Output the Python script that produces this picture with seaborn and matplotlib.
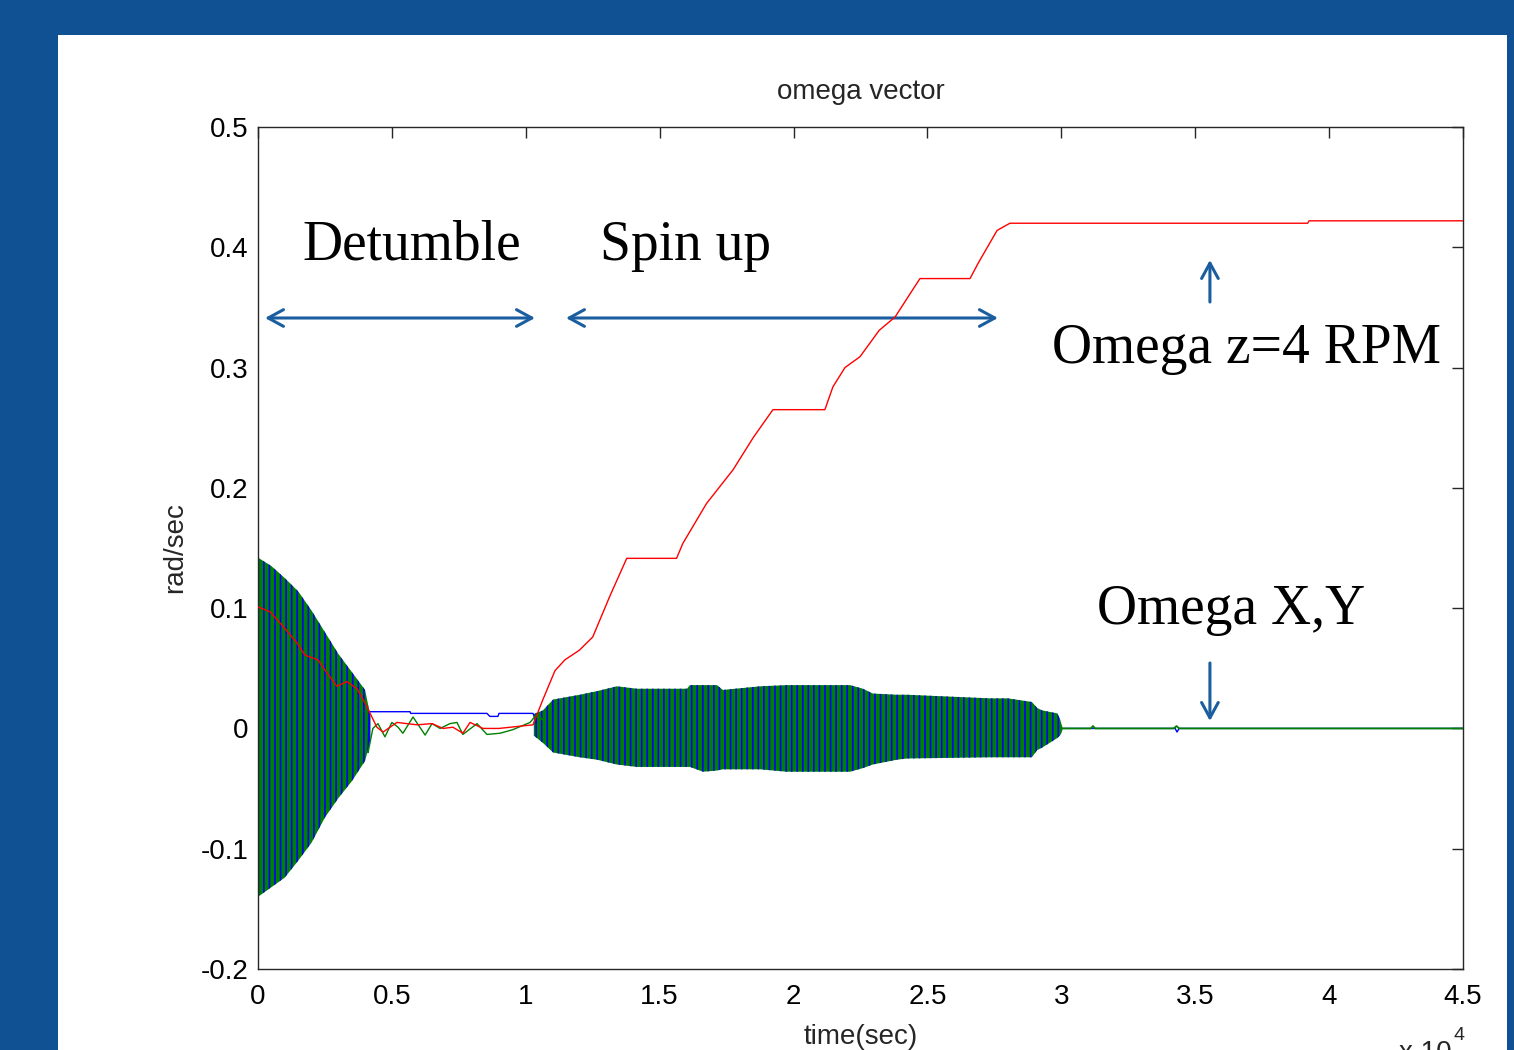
import numpy as np
import matplotlib
matplotlib.use("Agg")
import matplotlib.pyplot as plt
import seaborn as sns
from matplotlib.patches import Rectangle
from matplotlib.ticker import FixedLocator, FixedFormatter

# ---------------- data ----------------
# omega z (red)
t_z = [0, 450, 930, 1460, 1750, 2240, 2580, 2950, 3320, 3700, 4000, 4440, 4670,
       5190, 5940, 6500, 6910, 7280, 7650, 7920, 8400, 9000, 10270, 10640, 11090,
       11460, 12000, 12500, 13140, 13770, 15630, 15870, 16750, 17740, 18500, 19230,
       21170, 21470, 21920, 22480, 23200, 23790, 24720, 26590, 26900, 27600, 28080,
       39200, 39250, 45000]
w_z = [0.101, 0.097, 0.085, 0.071, 0.061, 0.057, 0.046, 0.035, 0.039, 0.033, 0.021,
       0.001, -0.003, 0.005, 0.003, 0.004, 0.000, 0.001, -0.004, 0.005, 0.000, 0.000,
       0.003, 0.024, 0.048, 0.057, 0.065, 0.076, 0.110, 0.1414, 0.1414, 0.154, 0.187,
       0.215, 0.242, 0.265, 0.265, 0.284, 0.300, 0.309, 0.331, 0.342, 0.374, 0.374,
       0.387, 0.414, 0.420, 0.420, 0.422, 0.422]

# omega x (blue), quiet parts
t_x = [4110, 4150, 4290, 5680, 5700, 8550, 8660, 8960, 9000, 10270, 10400]
w_x = [-0.020, 0.0139, 0.0139, 0.0139, 0.0125, 0.0125, 0.010, 0.010, 0.0125, 0.0125, 0.005]
t_x_end = [30060, 34250, 34320, 34400, 45000]
w_x_end = [0.0, 0.0, -0.003, 0.0, 0.0]

# omega y (green), quiet parts
t_y = [4110, 4290, 4480, 4740, 5000, 5230, 5410, 5790, 6240, 6500, 6800, 7170,
       7430, 7650, 8180, 8550, 9040, 9520, 10160, 10420, 10720]
w_y = [-0.020, 0.000, 0.004, -0.007, 0.005, 0.001, -0.004, 0.0095, -0.0055, 0.004,
       0.000, 0.004, 0.005, -0.005, 0.004, -0.005, -0.004, -0.001, 0.005, 0.012, 0.005]
t_y_end = [30060, 31100, 31180, 31260, 34200, 34300, 34400, 45000]
w_y_end = [0.0, 0.0, 0.002, 0.0, 0.0, 0.002, 0.0, 0.0]

# oscillation envelope of omega x / y during detumble
t_det = [0, 500, 1000, 1500, 2000, 2500, 3000, 3500, 4000, 4200]
det_hi = [0.142, 0.135, 0.125, 0.114, 0.098, 0.080, 0.062, 0.047, 0.032, 0.010]
det_lo = [-0.140, -0.132, -0.124, -0.110, -0.095, -0.074, -0.058, -0.044, -0.027, -0.010]

# oscillation envelope of omega x / y during spin up
t_spin = [10300, 10640, 11020, 12020, 12660, 13400, 14150, 16020, 16130, 16620, 17140,
          17360, 18750, 19750, 22110, 22590, 22960, 23860, 24230, 27330, 28000, 28900,
          29100, 29280, 29850, 29950, 30000, 30060]
spin_hi = [0.012, 0.015, 0.024, 0.028, 0.031, 0.035, 0.033, 0.033, 0.036, 0.036, 0.036,
           0.032, 0.035, 0.036, 0.036, 0.033, 0.029, 0.028, 0.028, 0.025, 0.025, 0.022,
           0.017, 0.015, 0.0125, 0.008, 0.004, 0.000]
spin_lo = [-0.006, -0.012, -0.020, -0.024, -0.026, -0.030, -0.032, -0.032, -0.032, -0.036,
           -0.035, -0.034, -0.034, -0.036, -0.036, -0.033, -0.030, -0.026, -0.025, -0.024,
           -0.024, -0.024, -0.018, -0.016, -0.008, -0.006, -0.004, 0.000]

x_ticks = [0, 5000, 10000, 15000, 20000, 25000, 30000, 35000, 40000, 45000]
x_tick_labels = ["0", "0.5", "1", "1.5", "2", "2.5", "3", "3.5", "4", "4.5"]
y_ticks = [-0.2, -0.1, 0.0, 0.1, 0.2, 0.3, 0.4, 0.5]
y_tick_labels = ["-0.2", "-0.1", "0", "0.1", "0.2", "0.3", "0.4", "0.5"]

# ---------------- style ----------------
sns.set_style("white")
SANS = ["Liberation Sans Narrow", "Liberation Sans", "DejaVu Sans"]
SERIF = ["Liberation Serif", "DejaVu Serif"]
plt.rcParams["font.family"] = SANS
plt.rcParams["hatch.linewidth"] = 1.2

BG_BLUE = "#0F5193"
ARROW = "#1B5E9F"
GREEN = "#008000"
BLUE = "#0000FF"
RED = "#FF0000"
FS = 20

W, H = 1514, 1050
fig = plt.figure(figsize=(W / 100, H / 100), dpi=100)
fig.patch.set_facecolor(BG_BLUE)
fig.patches.append(Rectangle((58 / W, 0), (1507 - 58) / W, (H - 35) / H,
                             transform=fig.transFigure, facecolor="white",
                             edgecolor="none", zorder=-10))

ax = fig.add_axes([258 / W, (H - 969) / H, (1463 - 258) / W, (969 - 127) / H])
ax.set_zorder(5)
ax.set_facecolor("white")

# envelopes (dense oscillations)
for tt, hi, lo in [(t_det, det_hi, det_lo), (t_spin, spin_hi, spin_lo)]:
    ax.fill_between(tt, lo, hi, facecolor=GREEN, edgecolor=BLUE, hatch="|||",
                    linewidth=0, zorder=2)

sns.lineplot(x=t_x, y=w_x, color=BLUE, lw=1, ax=ax, sort=False, estimator=None, zorder=3)
sns.lineplot(x=t_x_end, y=w_x_end, color=BLUE, lw=1, ax=ax, sort=False, estimator=None, zorder=3)
sns.lineplot(x=t_y, y=w_y, color=GREEN, lw=1, ax=ax, sort=False, estimator=None, zorder=4)
sns.lineplot(x=t_y_end, y=w_y_end, color=GREEN, lw=1.3, ax=ax, sort=False, estimator=None, zorder=4)
sns.lineplot(x=t_z, y=w_z, color=RED, lw=1, ax=ax, sort=False, estimator=None, zorder=5)

ax.set_xlim(0, 45000)
ax.set_ylim(-0.2, 0.5)
ax.xaxis.set_major_locator(FixedLocator(x_ticks))
ax.xaxis.set_major_formatter(FixedFormatter(x_tick_labels))
ax.yaxis.set_major_locator(FixedLocator(y_ticks))
ax.yaxis.set_major_formatter(FixedFormatter(y_tick_labels))
ax.tick_params(direction="in", length=8, width=1, color="#262626",
               top=True, right=True, labelsize=FS, labelcolor="black")
ax.tick_params(axis="x", pad=11)
ax.tick_params(axis="y", pad=7)
for s in ax.spines.values():
    s.set_visible(True)
    s.set_color("#262626")
    s.set_linewidth(1)

ax.set_title("omega vector", fontsize=FS, pad=20)
ax.set_xlabel("time(sec)", fontsize=FS, labelpad=10)
ax.set_ylabel("rad/sec", fontsize=FS, labelpad=9)

# x 10^4 offset (cut off at the bottom, as in the source)
fig.text(1452 / W, 1 - 1040 / H, "x 10", fontsize=FS, ha="right", va="top")
fig.text(1453 / W, 1 - 1027 / H, "4", fontsize=14, ha="left", va="top")


def px(xp, yp):
    return ((xp - 258) / 26.78 * 1000, 0.5 - (yp - 127) / 1202.9)


# annotations
for label, (xp, yp) in [("Detumble", (302, 260)), ("Spin up", (600, 260)),
                        ("Omega z=4 RPM", (1052, 363)), ("Omega X,Y", (1097, 624))]:
    ax.text(*px(xp, yp), label, fontsize=40, family=SERIF, va="baseline", ha="left",
            color="black", zorder=6)

aprops = dict(arrowstyle="<->,head_length=1.1,head_width=0.6", color=ARROW, lw=2.2,
              shrinkA=0, shrinkB=0)
ax.annotate("", xy=px(535, 318), xytext=px(265, 318), arrowprops=aprops)
ax.annotate("", xy=px(998, 318), xytext=px(566, 318), arrowprops=aprops)
sprops = dict(arrowstyle="->,head_length=1.1,head_width=0.6", color=ARROW, lw=2.2,
              shrinkA=0, shrinkB=0)
ax.annotate("", xy=px(1210, 260), xytext=px(1210, 302), arrowprops=sprops)
ax.annotate("", xy=px(1210, 721), xytext=px(1210, 663), arrowprops=sprops)

fig.savefig("out.png", dpi=100, facecolor=fig.get_facecolor())
